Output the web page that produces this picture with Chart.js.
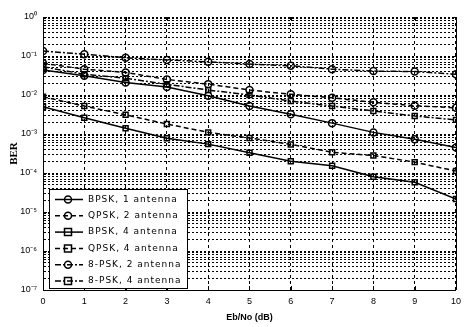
<!DOCTYPE html>
<html lang="en">
<head>
  <meta charset="UTF-8">
  <title>BER vs Eb/No</title>
  <script src="https://cdn.jsdelivr.net/npm/chart.js"></script>
  <style>
    html, body { margin: 0; padding: 0; background: #fff; }
    #wrap { width: 467px; height: 327px; }
  </style>
</head>
<body>
  <div id="wrap"><canvas id="berChart" width="467" height="327"></canvas></div>

  <script>
    // x axis: Eb/No in dB
    const ebno = [0, 1, 2, 3, 4, 5, 6, 7, 8, 9, 10];

    // BER values
    const bpsk1 = [0.044, 0.031, 0.021, 0.016, 0.0096, 0.0052, 0.0032, 0.0019, 0.0011, 0.00073, 0.00045];
    const qpsk2 = [0.065, 0.046, 0.038, 0.025, 0.019, 0.0134, 0.0104, 0.0085, 0.0065, 0.0053, 0.0047];
    const bpsk4 = [0.0050, 0.0026, 0.0014, 0.00078, 0.00055, 0.00033, 0.00020, 0.000154, 0.00008, 0.000058, 0.0000215];
    const qpsk4 = [0.0090, 0.0052, 0.0031, 0.0018, 0.0011, 0.00079, 0.00054, 0.00034, 0.00028, 0.00019, 0.000112];
    const psk8_2 = [0.134, 0.111, 0.090, 0.079, 0.071, 0.062, 0.056, 0.046, 0.041, 0.040, 0.034];
    const psk8_4 = [0.053, 0.034, 0.027, 0.0188, 0.0134, 0.0100, 0.0070, 0.0052, 0.0039, 0.0029, 0.0023];

    const seriesNames = ['BPSK, 1 antenna', 'QPSK, 2 antenna', 'BPSK, 4 antenna',
                         'QPSK, 4 antenna', '8-PSK, 2 antenna', '8-PSK, 4 antenna'];

    // y axis decades and their labels
    const yTickValues = [1e-7, 1e-6, 1e-5, 1e-4, 1e-3, 1e-2, 1e-1, 1];
    const yTickLabels = ['10\u207B\u2077', '10\u207B\u2076', '10\u207B\u2075', '10\u207B\u2074',
                         '10\u207B\u00B3', '10\u207B\u00B2', '10\u207B\u00B9', '10\u2070'];
    const xTickLabels = ['0', '1', '2', '3', '4', '5', '6', '7', '8', '9', '10'];

    const SOLID = [];
    const DASH = [5, 3];
    const DASHDOT = [6, 2, 2, 2];

    function makeSet(label, values, dash, shape) {
      return {
        label: label,
        data: ebno.map((x, i) => ({ x: x, y: values[i] })),
        borderColor: '#000',
        backgroundColor: 'rgba(0,0,0,0)',
        borderWidth: 1.5,
        borderDash: dash,
        pointStyle: shape,
        pointRadius: 3.5,
        pointBorderWidth: 1.5,
        pointBorderColor: '#000',
        pointBackgroundColor: 'rgba(0,0,0,0)',
        tension: 0
      };
    }

    const datasets = [
      makeSet(seriesNames[0], bpsk1, SOLID, 'circle'),
      makeSet(seriesNames[1], qpsk2, DASH, 'circle'),
      makeSet(seriesNames[2], bpsk4, SOLID, 'rect'),
      makeSet(seriesNames[3], qpsk4, DASH, 'rect'),
      makeSet(seriesNames[4], psk8_2, DASHDOT, 'circle'),
      makeSet(seriesNames[5], psk8_4, DASHDOT, 'rect')
    ];

    // box, inward ticks, axis titles and the in-plot legend
    const decorations = {
      id: 'decorations',
      beforeDatasetsDraw(chart) {
        const { ctx, chartArea: a, scales } = chart;
        ctx.save();
        ctx.strokeStyle = '#000';
        ctx.lineWidth = 1;
        ctx.setLineDash([]);
        ctx.beginPath();
        ctx.moveTo(Math.round(a.right) + 0.5, a.top);
        ctx.lineTo(Math.round(a.right) + 0.5, a.bottom);
        // inward x ticks
        ebno.forEach(v => {
          const px = Math.round(scales.x.getPixelForValue(v)) + 0.5;
          ctx.moveTo(px, a.bottom); ctx.lineTo(px, a.bottom - 4);
          ctx.moveTo(px, a.top); ctx.lineTo(px, a.top + 4);
        });
        // inward y ticks at decades
        yTickValues.forEach(v => {
          const py = Math.round(scales.y.getPixelForValue(v)) + 0.5;
          ctx.moveTo(a.left, py); ctx.lineTo(a.left + 4, py);
          ctx.moveTo(a.right, py); ctx.lineTo(a.right - 4, py);
        });
        ctx.stroke();
        ctx.restore();
      },
      afterDraw(chart) {
        const { ctx, chartArea: a } = chart;
        ctx.save();
        ctx.fillStyle = '#000';
        // axis titles
        ctx.font = 'bold 9px "Liberation Sans", sans-serif';
        ctx.textAlign = 'center';
        ctx.textBaseline = 'middle';
        ctx.fillText('Eb/No (dB)', (a.left + a.right) / 2, 318);
        ctx.save();
        ctx.translate(14, (a.top + a.bottom) / 2);
        ctx.rotate(-Math.PI / 2);
        ctx.font = 'bold 11px "Liberation Serif", serif';
        ctx.fillText('BER', 0, 0);
        ctx.restore();

        // legend
        const lx = 49, ly = 189, lw = 138, lh = 99;
        ctx.fillStyle = '#fff';
        ctx.fillRect(lx, ly, lw, lh);
        ctx.strokeStyle = '#000';
        ctx.lineWidth = 1;
        ctx.setLineDash([]);
        ctx.strokeRect(lx + 0.5, ly + 0.5, lw, lh);
        chart.data.datasets.forEach((ds, i) => {
          const y = 199.5 + i * 16.3;
          ctx.strokeStyle = '#000';
          ctx.lineWidth = 1.5;
          ctx.setLineDash(ds.borderDash);
          ctx.beginPath();
          ctx.moveTo(55, y);
          ctx.lineTo(83, y);
          ctx.stroke();
          ctx.setLineDash([]);
          ctx.beginPath();
          if (ds.pointStyle === 'rect') {
            ctx.rect(68 - 3.5, y - 3.5, 7, 7);
          } else {
            ctx.arc(68, y, 3.5, 0, Math.PI * 2);
          }
          ctx.stroke();
          ctx.fillStyle = '#000';
          ctx.font = '9px "DejaVu Sans", sans-serif';
          ctx.letterSpacing = '1px';
          ctx.textAlign = 'left';
          ctx.textBaseline = 'middle';
          ctx.fillText(ds.label, 88, y);
          ctx.letterSpacing = '0px';
        });
        ctx.restore();
      }
    };

    const ctx = document.getElementById('berChart').getContext('2d');
    new Chart(ctx, {
      type: 'line',
      data: { datasets: datasets },
      options: {
        responsive: false,
        animation: false,
        layout: { padding: { top: 17, right: 8, left: 0, bottom: 0 } },
        plugins: {
          legend: { display: false },
          tooltip: { enabled: false }
        },
        scales: {
          x: {
            type: 'linear',
            min: 0,
            max: 10,
            afterFit: s => { s.height = 37; },
            ticks: {
              stepSize: 1,
              color: '#000',
              padding: 6,
              font: { family: 'Liberation Sans', size: 9 },
              callback: v => xTickLabels[ebno.indexOf(v)] ?? ''
            },
            grid: {
              color: '#000',
              lineWidth: 1,
              drawTicks: false
            },
            border: { display: true, color: '#000', width: 1, dash: [3, 3] }
          },
          y: {
            type: 'logarithmic',
            min: 1e-7,
            max: 1,
            afterFit: s => { s.width = 43; },
            afterBuildTicks: s => {
              const t = [];
              for (let e = -7; e < 0; e++) {
                for (let m = 1; m <= 9; m++) t.push({ value: m * Math.pow(10, e) });
              }
              t.push({ value: 1 });
              s.ticks = t;
            },
            ticks: {
              autoSkip: false,
              color: '#000',
              padding: 6,
              font: { family: 'Liberation Sans', size: 9 },
              callback: v => {
                const i = yTickValues.findIndex(d => Math.abs(Math.log10(d) - Math.log10(v)) < 1e-6);
                return i >= 0 ? yTickLabels[i] : '';
              }
            },
            grid: {
              color: '#000',
              lineWidth: 1,
              drawTicks: false
            },
            border: { display: true, color: '#000', width: 1, dash: [2, 2] }
          }
        }
      },
      plugins: [decorations]
    });
  </script>
</body>
</html>
